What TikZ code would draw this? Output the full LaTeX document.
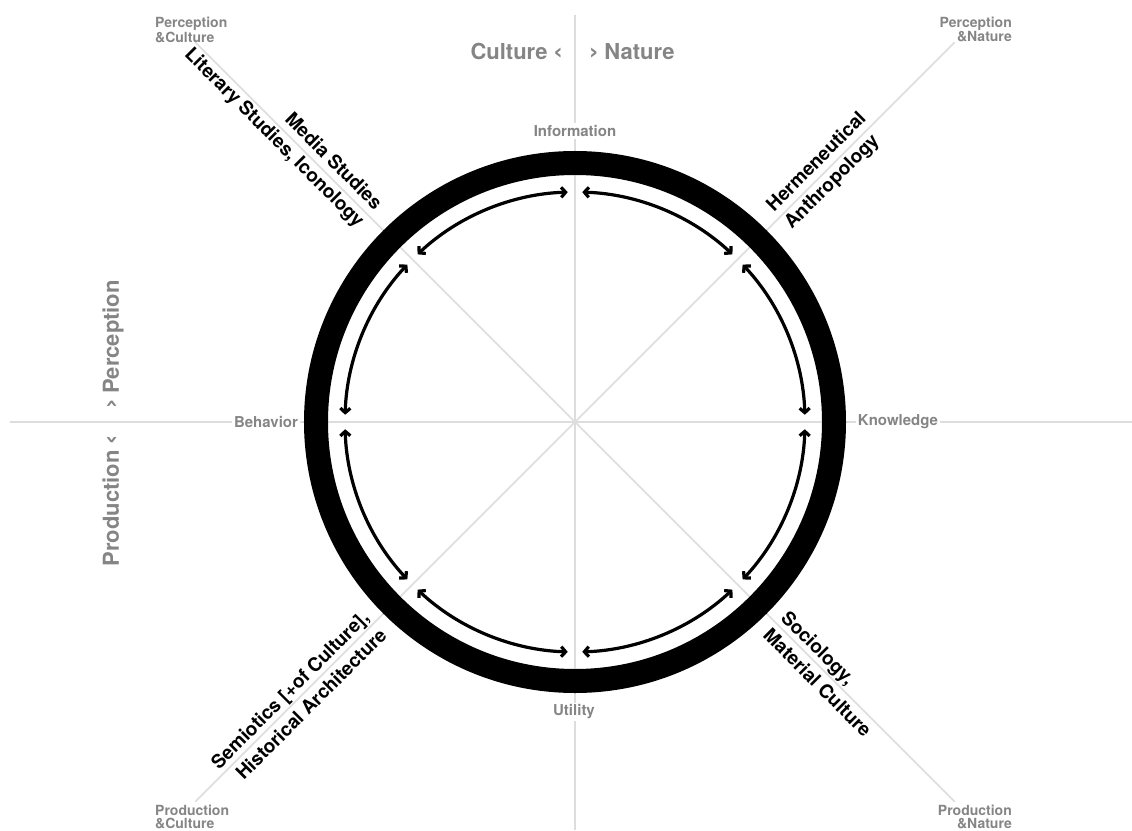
\documentclass[tikz,border=0pt]{standalone}
\usepackage{fontspec}
\setmainfont{TeX Gyre Heros}
\newfontfamily\chevfont{DejaVu Sans}
\usepackage{tikz}
\usetikzlibrary{arrows.meta}
\definecolor{labelgray}{HTML}{858585}
\definecolor{axisgray}{HTML}{DDDDDD}
\newcommand{\lchev}{{\chevfont\bfseries ‹}}
\newcommand{\rchev}{{\chevfont\bfseries ›}}

\begin{document}
\begin{tikzpicture}[x=1pt,y=1pt,
 axis/.style={draw=axisgray, line width=1.5pt},
 pole/.style={text=labelgray, font=\bfseries\fontsize{22}{26}\selectfont, inner sep=0pt},
 station/.style={text=labelgray, font=\bfseries\fontsize{15}{18}\selectfont, fill=white, inner sep=2pt},
 corner/.style={text=labelgray, font=\bfseries\fontsize{14}{12.5}\selectfont, inner sep=0pt},
 field/.style={font=\bfseries\fontsize{19}{25}\selectfont, inner sep=1pt},
 flow/.style={{Straight Barb[length=4.5pt,width=10pt]}-{Straight Barb[length=4.5pt,width=10pt]}, line width=3.2pt}]
\useasboundingbox (-575,-408) rectangle (557,422);
\coordinate (o) at (0,0);
\coordinate (top) at (0,407);
\coordinate (bottom) at (0,-408);
\coordinate (left) at (-565,0);
\coordinate (right) at (557,0);
\coordinate (pc) at (135:537);
\coordinate (pn) at (45:537);
\coordinate (rc) at (225:537);
\coordinate (rn) at (-45:537);
\draw[axis] (top) -- (bottom);
\draw[axis] (left) -- (right);
\draw[axis] (pc) -- (rn);
\draw[axis] (pn) -- (rc);
\draw[line width=24pt] (o) circle[radius=259];
\foreach \a in {0,45,...,315}
  \draw[flow] ([shift={(\a+1.8:230)}]o) arc[start angle=\a+1.8, end angle=\a+43.2, radius=230];
\node[station] (info) at (0,291) {Information};
\node[station] (know) at (323,0) {Knowledge};
\node[station] (util) at (-1,-290) {Utility};
\node[station] (behav) at (-309,0) {Behavior};
\node[pole, anchor=base east] (culture) at (-12,362) {Culture \lchev};
\node[pole, anchor=base west] (nature) at (14,362) {\rchev\ Nature};
\node[pole, rotate=90, anchor=base west] (perception) at (-456,13) {\rchev\ Perception};
\node[pole, rotate=90, anchor=base east] (production) at (-456,-13) {Production \lchev};
\node[corner, anchor=north west, align=left] (pcl) at (-420,405) {Perception\\\&Culture};
\node[corner, anchor=north east, align=right] (pnl) at (437,405) {Perception\\\&Nature};
\node[corner, anchor=north west, align=left] (rcl) at (-420,-383) {Production\\\&Culture};
\node[corner, anchor=north east, align=right] (rnl) at (437,-383) {Production\\\&Nature};
\node[field, rotate=-45, anchor=east, align=right] (media) at (135:290) {Media Studies\\Literary Studies, Iconology};
\node[field, rotate=45, anchor=west, align=left] (herm) at (45:288) {Hermeneutical\\Anthropology};
\node[field, rotate=45, anchor=east, align=right] (semio) at (225:283) {Semiotics [+of Culture],\\Historical Architecture};
\node[field, rotate=-45, anchor=west, align=left] (socio) at (-45:283) {Sociology,\\Material Culture};
\end{tikzpicture}
\end{document}
